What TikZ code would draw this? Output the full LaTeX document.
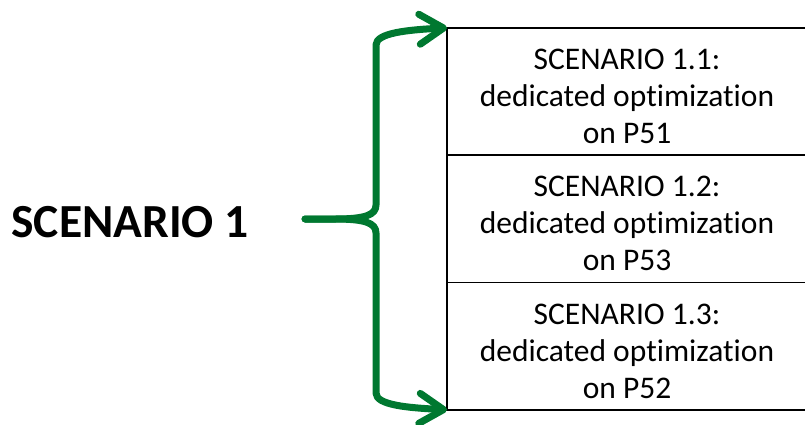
\documentclass[tikz,border=0pt]{standalone}
\usepackage{fontspec}
\setmainfont{Carlito}[Ligatures=NoCommon]
\usetikzlibrary{arrows.meta,positioning}
\definecolor{bracegreen}{RGB}{0,120,48}

\begin{document}
\begin{tikzpicture}[x=1pt,y=-1pt,
  every node/.style={inner sep=0pt,outer sep=0pt},
  subbox/.style={draw,line width=1.5pt,minimum width=360pt,minimum height=127.3pt,
    align=center,text height=104pt,font=\fontsize{31.5}{37}\selectfont},
  brace/.style={draw=bracegreen,line width=7pt,line cap=round,line join=round,
    -{Straight Barb[length=24pt,width=30pt,line cap=round,line join=round]}}]
  \useasboundingbox (0,0) rectangle (805,424);
  \node[anchor=base,font=\fontsize{47.5}{50}\selectfont\bfseries] (main) at (130,237) {SCENARIO 1};
  \node[subbox] (s11) at (627,91.5) {SCENARIO 1.1:\\dedicated optimization\\on P51};
  \node[subbox,below=0pt of s11] (s12) {SCENARIO 1.2:\\dedicated optimization\\on P53};
  \node[subbox,below=0pt of s12] (s13) {SCENARIO 1.3:\\dedicated optimization\\on P52};
  \coordinate (fork) at (305,219);
  % upper and lower half of the brace
  \draw[brace] (fork) -- ++(30,0) .. controls +(30,0) and +(0,10) .. ++(41,-14)
    -- ++(0,-160) .. controls +(0,-12) and +(-40,2) .. (s11.north west);
  \draw[brace] (fork) -- ++(30,0) .. controls +(30,0) and +(0,-10) .. ++(41,14)
    -- ++(0,160) .. controls +(0,12) and +(-40,-2) .. (s13.south west);
\end{tikzpicture}
\end{document}
